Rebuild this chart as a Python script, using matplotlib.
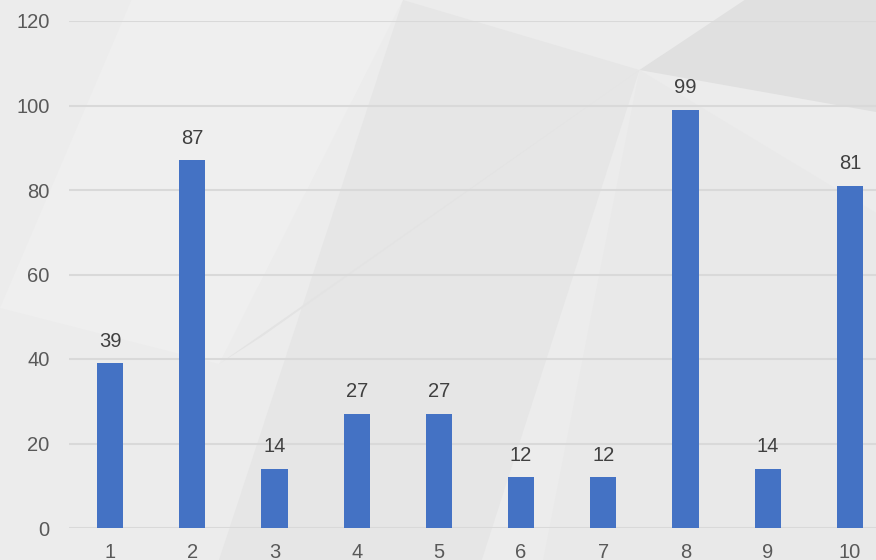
import matplotlib.pyplot as plt
from matplotlib.patches import Polygon

plt.rcParams['font.family'] = ['Liberation Sans', 'DejaVu Sans']

categories = ['1', '2', '3', '4', '5', '6', '7', '8', '9', '10']
values = [39, 87, 14, 27, 27, 12, 12, 99, 14, 81]
y_ticks = [0, 20, 40, 60, 80, 100, 120]

fig = plt.figure(figsize=(8.76, 5.6), dpi=100)
fig.patch.set_facecolor('#ececec')

# background axes for the faint geometric pattern
bg = fig.add_axes([0, 0, 1, 1], zorder=-1)
bg.set_xlim(0, 1)
bg.set_ylim(0, 1)
bg.axis('off')
shapes = [
    ([(0.46, 1.0), (0.73, 0.875), (0.55, 0.0), (0.25, 0.0)], '#e6e6e6'),
    ([(0.73, 0.875), (1.0, 0.62), (1.0, 0.0), (0.62, 0.0)], '#e9e9e9'),
    ([(0.73, 0.875), (0.85, 1.0), (1.0, 1.0), (1.0, 0.8)], '#e0e0e0'),
    ([(0.15, 1.0), (0.46, 1.0), (0.25, 0.35), (0.0, 0.45)], '#efefef'),
    ([(0.73, 0.875), (0.3, 0.4), (0.25, 0.35)], '#e3e3e3'),
]
for pts, col in shapes:
    bg.add_patch(Polygon(pts, closed=True, facecolor=col, edgecolor='none'))

# plot area runs past the right edge, as in the cropped original
ax = fig.add_axes([69 / 876, 32 / 560, 822 / 876, 507 / 560])
ax.set_facecolor('none')

x = list(range(len(categories)))
ax.bar(x, values, width=0.32, color='#4472C4', zorder=3)

for xi, v in zip(x, values):
    ax.text(xi, v + 3, str(v), ha='center', va='bottom',
            fontsize=14.5, color='#404040')

ax.set_xlim(-0.5, len(categories) - 0.5)
ax.set_ylim(0, 120)
ax.set_yticks(y_ticks)
ax.set_xticks(x)
ax.set_xticklabels(categories)
ax.yaxis.grid(True, color='#d9d9d9', linewidth=1.5, zorder=0)
ax.set_axisbelow(True)

for side in ['top', 'right', 'left', 'bottom']:
    ax.spines[side].set_visible(False)
ax.tick_params(axis='both', length=0, labelsize=14.5, labelcolor='#595959')
ax.tick_params(axis='y', pad=14)
ax.tick_params(axis='x', pad=11)

fig.savefig('out.png', dpi=100, facecolor=fig.get_facecolor())
